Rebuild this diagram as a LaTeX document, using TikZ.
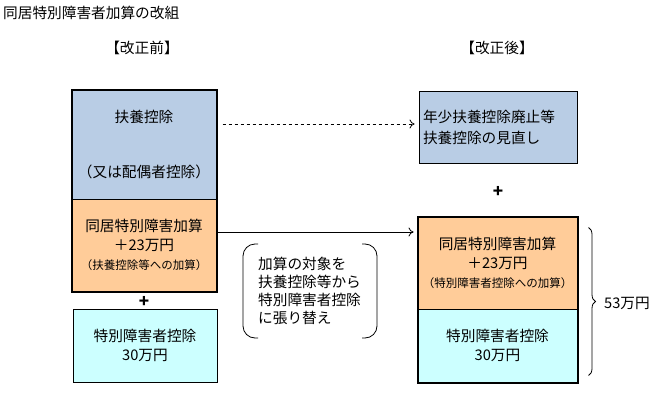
\documentclass[tikz,border=0pt]{standalone}
\usepackage{fontspec}
\setmainfont{Noto Sans CJK JP}
\usetikzlibrary{decorations.pathreplacing,arrows.meta}
\definecolor{fuyoblue}{RGB}{185,205,229}
\definecolor{kasanorange}{RGB}{255,204,153}
\definecolor{kojocyan}{RGB}{204,255,255}

\begin{document}
\begin{tikzpicture}[x=1pt,y=-1pt,
    boxsty/.style={draw,line width=1pt,inner sep=0pt,align=center,
      font=\fontsize{14.67}{19}\selectfont},
    lblsty/.style={font=\fontsize{14.67}{18}\selectfont},
    plussty/.style={font=\fontsize{17}{17}\selectfont\bfseries,inner sep=0pt}]
  \useasboundingbox (0,0) rectangle (658,401);
  \node[lblsty,anchor=west,inner sep=2pt] (title) at (1,13) {同居特別障害者加算の改組};
  \node[lblsty] (mae) at (142,48) {【改正前】};
  \node[lblsty] (ato) at (497,48) {【改正後】};

  % kaisei mae
  \node[boxsty,fill=fuyoblue,minimum width=144pt,minimum height=108pt] (lblue) at (144,145)
  {扶養控除\\[36pt]（又は配偶者控除）};
  \node[boxsty,fill=kasanorange,minimum width=144pt,minimum height=92pt] (lorange) at (144,245)
  {同居特別障害加算\\＋23万円\\{\fontsize{11.5}{18}\selectfont（扶養控除等への加算）}};
  \draw[line width=2pt] (lblue.north west) rectangle (lorange.south east);
  \node[plussty] (plusl) at (144,302) {+};
  \node[boxsty,fill=kojocyan,minimum width=144pt,minimum height=73pt] (lcyan) at (145,345.5)
  {特別障害者控除\\30万円};

  % kaisei ato
  \node[boxsty,fill=fuyoblue,text width=150pt,inner xsep=4pt,minimum height=71pt,
    align=left,font=\fontsize{14.67}{21}\selectfont] (rblue) at (498,127.5)
  {年少扶養控除廃止等\\扶養控除の見直し};
  \node[plussty] (plusr) at (498,192) {+};
  \node[boxsty,fill=kasanorange,minimum width=159pt,minimum height=92pt] (rorange) at (497.5,263)
  {同居特別障害加算\\＋23万円\\{\fontsize{11.5}{18}\selectfont（特別障害者控除への加算）}};
  \node[boxsty,fill=kojocyan,minimum width=159pt,minimum height=73pt] (rcyan) at (497.5,345.5)
  {特別障害者控除\\30万円};
  \draw[line width=2pt] (rorange.north west) rectangle (rcyan.south east);

  % yajirushi
  \draw[->,>={To[length=5pt,width=9pt]},line width=0.8pt,dashed,shorten <=6pt,shorten >=4pt]
  ([yshift=3.5pt]rblue.west -| lblue.east) -- ([yshift=3.5pt]rblue.west);
  \draw[->,>={To[length=5pt,width=9pt]},line width=0.8pt,shorten >=4pt]
  ([yshift=13pt]lorange.east) -- ([yshift=13pt]lorange.east -| rorange.west);

  % harikae no setsumei
  \node[lblsty,anchor=west,align=left,inner sep=0pt] (note) at (258,291)
  {加算の対象を\\扶養控除等から\\特別障害者控除\\に張り替え};
  \draw[line width=0.8pt,rounded corners=12pt] (258,244) -- (243,244) -- (243,338) -- (258,338);
  \draw[line width=0.8pt,rounded corners=12pt] (362,244) -- (377,244) -- (377,338) -- (362,338);

  % gokei
  \draw[line width=0.8pt,decorate,decoration={brace,amplitude=7pt}]
  ([xshift=11pt,yshift=-11pt]rorange.north east) -- ([xshift=11pt,yshift=7pt]rcyan.south east);
  \node[lblsty] (gaku) at (627,303) {53万円};
\end{tikzpicture}
\end{document}
